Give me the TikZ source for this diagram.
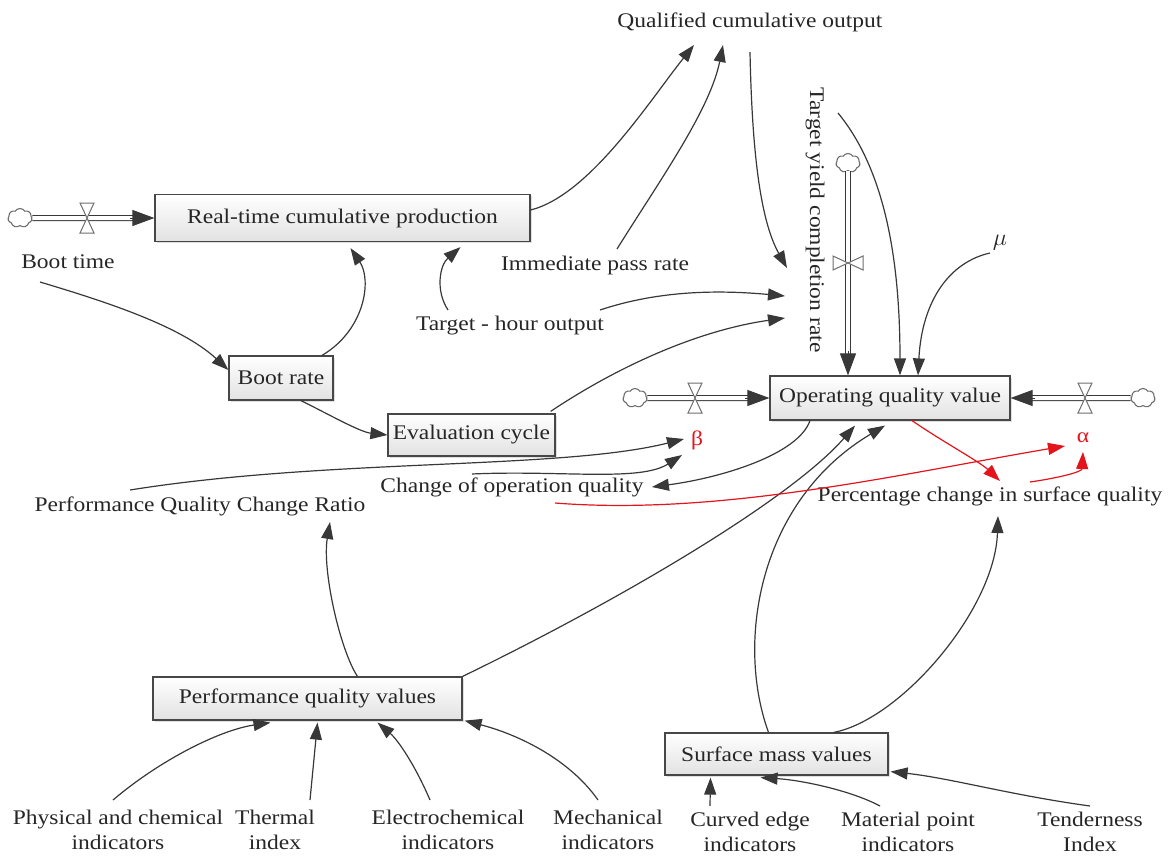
\documentclass[tikz,border=0pt]{standalone}
\usepackage{fontspec}
\setmainfont{Liberation Serif}[FakeStretch=1.13]
\usetikzlibrary{arrows.meta,shapes.symbols,calc,shadows}
\definecolor{ink}{HTML}{262626}
\definecolor{linec}{HTML}{383838}
\definecolor{boxedge}{HTML}{474747}
\definecolor{boxbot}{HTML}{E2E2E2}
\definecolor{redc}{HTML}{E3141B}
\definecolor{gk}{HTML}{6E6E6E}
\newcommand\dfont{\fontsize{10.4pt}{12.5pt}\selectfont}
\newcommand\mufont{\fontsize{12.5pt}{14pt}\selectfont}
\begin{document}
\begin{tikzpicture}[x=0.5pt,y=-0.5pt,
  every node/.style={font=\dfont, text=ink},
  box/.style={draw=boxedge, line width=0.6pt, top color=white, bottom color=boxbot, inner sep=0pt,
    drop shadow={shadow xshift=0.8pt, shadow yshift=-0.8pt, opacity=0.25}},
  lbl/.style={inner sep=0pt, align=center},
  arr/.style={draw=linec, line width=0.6pt, -{Triangle[length=8.5pt,width=6pt]}},
  rarr/.style={draw=redc, line width=0.6pt, -{Triangle[length=8.5pt,width=6pt]}},
  flow/.style={draw=linec, double=white, double distance=2pt, line width=0.5pt, shorten >=9pt},
  flowhead/.style={draw=linec, line width=0.5pt, -{Triangle[length=11pt,width=8pt]}},
  cl/.style={cloud, cloud puffs=7, cloud puff arc=115, draw=gk, fill=white, line width=0.55pt,
    minimum width=12pt, minimum height=9.5pt, inner sep=0pt, aspect=1.3},
  hvalve/.pic={\draw[gk, fill=white, line width=0.5pt] (-7,-15) -- (7,-15) -- (0,0) -- cycle (-7,15) -- (7,15) -- (0,0) -- cycle;},
  vvalve/.pic={\draw[gk, fill=white, line width=0.5pt] (-15,-7) -- (-15,7) -- (0,0) -- cycle (15,-7) -- (15,7) -- (0,0) -- cycle;}
]
\useasboundingbox (0,0) rectangle (1175,857);

% ---------- boxes ----------
\node[box, minimum width=187.5pt, minimum height=23.5pt] (rtc) at (342.5,218) {Real-time cumulative production};
\node[box, minimum width=52pt, minimum height=22pt] (br) at (281,378) {Boot rate};
\node[box, minimum width=83.5pt, minimum height=21pt] (ev) at (471.5,435) {Evaluation cycle};
\node[box, minimum width=120pt, minimum height=22pt] (oqv) at (890,398) {Operating quality value};
\node[box, minimum width=154.5pt, minimum height=21.5pt] (pqv) at (307.5,698.5) {Performance quality values};
\node[box, minimum width=111.5pt, minimum height=21pt] (smv) at (776.5,754) {Surface mass values};

% ---------- labels ----------
\node[lbl] (qco) at (750,22) {Qualified cumulative output};
\node[lbl] (bt) at (68,262) {Boot time};
\node[lbl] (ipr) at (595,265) {Immediate pass rate};
\node[lbl] (tho) at (510,326) {Target - hour output};
\node[lbl, rotate=-90] (tycr) at (815,220) {Target yield completion rate};
\node[lbl, font=\mufont] (mu) at (1000,243) {$\mu$};
\node[lbl, text=redc] (beta) at (697,440) {β};
\node[lbl, text=redc] (alpha) at (1083,438) {α};
\node[lbl] (coq) at (512,487) {Change of operation quality};
\node[lbl] (pcsq) at (990,496) {Percentage change in surface quality};
\node[lbl] (pqcr) at (200,506) {Performance Quality Change Ratio};
\node[lbl] (pci) at (118,830) {Physical and chemical\\indicators};
\node[lbl] (thi) at (275,830) {Thermal\\index};
\node[lbl] (eci) at (448,830) {Electrochemical\\indicators};
\node[lbl] (mci) at (608,830) {Mechanical\\indicators};
\node[lbl] (cei) at (750,832) {Curved edge\\indicators};
\node[lbl] (mpi) at (908,832) {Material point\\indicators};
\node[lbl] (tdi) at (1090,832) {Tenderness\\Index};

% ---------- clouds ----------
\node[cl] (c1) at (20,218) {};
\node[cl] (c2) at (848,163) {};
\node[cl] (c3) at (635,398) {};
\node[cl] (c4) at (1143,398) {};

% ---------- flows ----------
\draw[flow] (c1) -- (rtc.west);
\draw[flowhead] ($(rtc.west)+(-24,0)$) -- (rtc.west);
\pic at (87,218) {hvalve};

\draw[flow] (c2) -- (c2 |- oqv.north);
\draw[flowhead] ($(c2 |- oqv.north)+(0,-24)$) -- (c2 |- oqv.north);
\pic at (848,263) {vvalve};

\draw[flow] (c3) -- (oqv.west);
\draw[flowhead] ($(oqv.west)+(-24,0)$) -- (oqv.west);
\pic at (695,398) {hvalve};

\draw[flow] (c4) -- (oqv.east);
\draw[flowhead] ($(oqv.east)+(24,0)$) -- (oqv.east);
\pic at (1085,398) {hvalve};

% ---------- upper connectors ----------
\draw[arr] ($(rtc.east)+(0,-8)$) .. controls (590,195) and (650,100) .. ($(qco)+(-56,23)$);
\draw[arr] ($(ipr)+(22,-16)$) .. controls (660,180) and (710,110) .. ($(qco)+(-27,23)$);
\draw[arr] ($(qco)+(0,30)$) .. controls (752,150) and (760,220) .. ($(tycr)+(-28,48)$);
\draw[arr] ($(tho)+(90,-16)$) .. controls (660,290) and (720,290) .. ($(tycr)+(-30,76)$);
\draw[arr] ($(ev.north east)+(-5,-2)$) .. controls (620,365) and (700,330) .. ($(tycr)+(-30,98)$);
\draw[arr] ($(tho)+(-62,-16)$) .. controls (435,290) and (440,265) .. ($(rtc.south)+(118,5)$);
\draw[arr] ($(br.north)+(41,0)$) .. controls (365,330) and (372,280) .. ($(rtc.south)+(8,6)$);
\draw[arr] ($(bt)+(-28,20)$) .. controls (100,300) and (180,325) .. ($(br.west)+(0,-8)$);
\draw[arr] ($(br.south)+(20,0)$) .. controls (330,415) and (360,432) .. (ev.west);
\draw[arr] ($(tycr)+(23,-107)$) .. controls (885,170) and (900,260) .. ($(oqv.north)+(10,0)$);
\draw[arr] ($(mu)+(-10,10)$) .. controls (950,262) and (922,300) .. ($(oqv.north)+(28,0)$);

% ---------- middle connectors ----------
\draw[arr] ($(oqv.south)+(-80,0)$) .. controls (798,455) and (720,478) .. ($(coq.east)+(8,0)$);
\draw[arr] ($(pqcr)+(-70,-16)$) .. controls (330,458) and (560,470) .. ($(beta)+(-13,-1)$);
\draw[arr] ($(coq)+(-40,-13)$) .. controls (560,470) and (640,482) .. ($(beta)+(-15,15)$);
\draw[arr] ($(pqv.north)+(50,0)$) .. controls (340,650) and (322,570) .. ($(pqcr)+(130,16)$);
\draw[arr] (pqv.north east) .. controls (620,600) and (790,500) .. ($(oqv.south)+(-35,5)$);
\draw[arr] ($(smv.north)+(-8,0)$) .. controls (735,640) and (760,500) .. ($(oqv.south)+(-5,5)$);
\draw[arr] ($(smv.north east)+(-55,0)$) .. controls (900,720) and (995,610) .. ($(pcsq)+(8,20)$);
\draw[rarr] ($(oqv.south)+(22,0)$) .. controls (940,440) and (980,462) .. ($(pcsq)+(10,-15)$);
\draw[rarr] ($(pcsq)+(40,-14)$) .. controls (1058,478) and (1082,472) .. ($(alpha)+(0,14)$);
\draw[rarr] ($(coq)+(43,16)$) .. controls (720,516) and (900,474) .. ($(alpha)+(-18,8)$);

% ---------- bottom connectors ----------
\draw[arr] ($(pci)+(-5,-30)$) .. controls (160,760) and (220,730) .. ($(pqv.south)+(-37,2)$);
\draw[arr] ($(thi)+(35,-30)$) -- ($(pqv.south)+(10,2)$);
\draw[arr] ($(eci)+(-18,-30)$) .. controls (415,765) and (398,740) .. ($(pqv.south)+(70,2)$);
\draw[arr] ($(mci)+(-10,-30)$) .. controls (570,760) and (520,735) .. ($(pqv.south east)+(2,0)$);
\draw[arr] ($(cei)+(-40,-26)$) -- ($(smv.south)+(-66,2)$);
\draw[arr] ($(mpi)+(-28,-26)$) .. controls (850,790) and (800,780) .. ($(smv.south)+(-16,2)$);
\draw[arr] ($(tdi)+(0,-26)$) .. controls (1010,795) and (950,778) .. ($(smv.south east)+(2,-4)$);
\end{tikzpicture}
\end{document}
